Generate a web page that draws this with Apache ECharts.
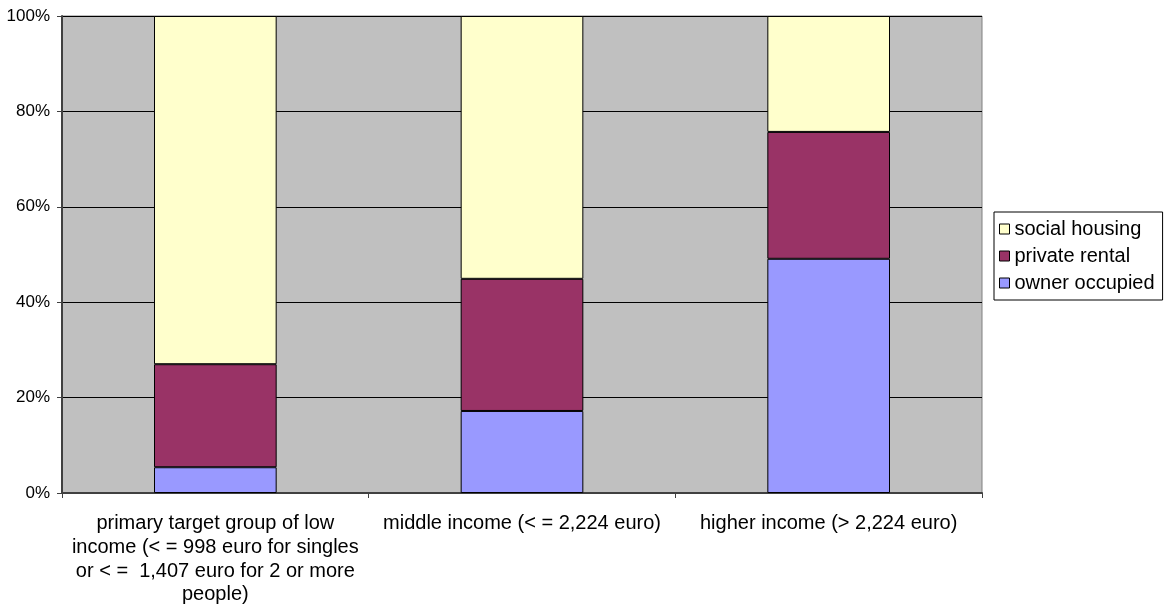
<!DOCTYPE html>
<html>
<head>
<meta charset="utf-8">
<script src="https://cdn.jsdelivr.net/npm/echarts@6/dist/echarts.min.js"></script>
<style>
  html, body { margin: 0; padding: 0; background: #ffffff; }
  #chart { width: 1166px; height: 605px; }
</style>
</head>
<body>
<div id="chart"></div>
<script>
// Income groups along the x axis
const categories = [
  'primary target group of low\nincome (< = 998 euro for singles\nor < =  1,407 euro for 2 or more\npeople)',
  'middle income (< = 2,224 euro)',
  'higher income (> 2,224 euro)'
];

// Tenure shares per income group (percent)
const ownerOccupied = [5.4, 17.2, 49.1];
const privateRental = [21.6, 27.7, 26.6];
const socialHousing = [73.0, 55.1, 24.3];

const seriesNames = ['owner occupied', 'private rental', 'social housing'];
const seriesColors = ['#9999FF', '#993366', '#FFFFCC'];

const FONT = '"Liberation Sans", Arial, sans-serif';

const chart = echarts.init(document.getElementById('chart'), null, { renderer: 'canvas' });

const values = [ownerOccupied, privateRental, socialHousing];

const option = {
  animation: false,
  backgroundColor: '#ffffff',
  textStyle: { fontFamily: FONT },
  grid: {
    left: 62, right: 184, top: 16, bottom: 112,
    outerBoundsMode: 'none', containLabel: false,
    show: true, backgroundColor: '#C0C0C0', borderColor: '#808080', borderWidth: 1
  },
  legend: {
    orient: 'vertical',
    left: 994, top: 212,
    data: ['social housing', 'private rental', 'owner occupied'],
    itemWidth: 10, itemHeight: 10, itemGap: 7, itemTextGap: 7,
    padding: [7, 8, 7, 5],
    backgroundColor: '#ffffff',
    borderColor: '#000000', borderWidth: 1, borderRadius: 0,
    textStyle: { fontFamily: FONT, fontSize: 20, color: '#000000', lineHeight: 20 },
    icon: 'rect',
    itemStyle: { borderColor: '#000000', borderWidth: 1 }
  },
  xAxis: {
    type: 'category',
    data: categories,
    boundaryGap: true,
    axisLine: { lineStyle: { color: '#404040', width: 2 } },
    axisTick: { show: true, inside: false, length: 5, lineStyle: { color: '#404040' } },
    axisLabel: {
      interval: 0, color: '#000000', fontSize: 20, fontFamily: FONT,
      lineHeight: 23.6, margin: 19, align: 'center'
    },
    splitLine: { show: false }
  },
  yAxis: {
    type: 'value',
    min: 0, max: 100, interval: 20,
    axisLine: { show: true, lineStyle: { color: '#404040', width: 2 } },
    axisTick: { show: true, length: 5, lineStyle: { color: '#404040' } },
    axisLabel: { formatter: '{value}%', color: '#000000', fontSize: 17, fontFamily: FONT, margin: 12 },
    splitLine: { show: true, lineStyle: { color: '#000000', width: 1 } }
  },
  series: seriesNames.map((name, i) => ({
    name: name,
    type: 'bar',
    stack: 'tenure',
    barWidth: '40%',
    data: values[i],
    itemStyle: { color: seriesColors[i], borderColor: '#000000', borderWidth: 1 }
  }))
};

chart.setOption(option);
</script>
</body>
</html>
